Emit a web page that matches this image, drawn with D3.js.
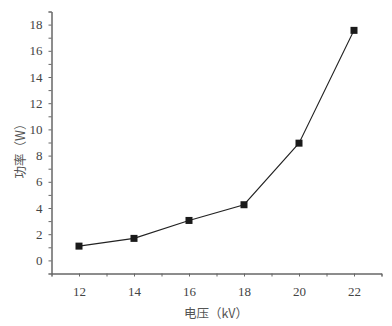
<!DOCTYPE html>
<html><head><meta charset="utf-8">
<script src="https://cdn.jsdelivr.net/npm/d3@7"></script>
<style>body{margin:0;background:#fff}</style>
</head><body>
<svg id="c" width="392" height="326"></svg>
<script>
const voltage = [12, 14, 16, 18, 20, 22];
const power = [1.09, 1.68, 3.05, 4.25, 8.95, 17.56];
const xTicks = [12, 14, 16, 18, 20, 22];
const yTicks = [0, 2, 4, 6, 8, 10, 12, 14, 16, 18];
const xTitle = "电压（kV）";
const yTitle = "功率（W）";

const svg = d3.select("#c");
const x = d3.scaleLinear().domain([11, 23]).range([51.5, 381.5]);
const y = d3.scaleLinear().domain([-1, 19]).range([273.5, 11.5]);
const axisColor = "#666";
const textColor = "#444";
const serif = "'Liberation Serif', 'DejaVu Serif', serif";

// x axis
const gx = svg.append("g").attr("transform", `translate(0,${y(-1)})`);
gx.call(d3.axisBottom(x).tickValues(d3.range(11, 24, 1)).tickSize(3).tickFormat(""));
gx.append("g").call(d3.axisBottom(x).tickValues(xTicks).tickSize(0).tickPadding(13)
  .tickFormat(d3.format("d")));
gx.selectAll("g").attr("font-family", null);
gx.attr("font-family", null);
gx.selectAll("path.domain").attr("stroke", axisColor);
gx.selectAll(".tick line").attr("stroke", axisColor);
gx.selectAll("text").attr("fill", textColor).style("font-family", serif).style("font-size", "13px");
gx.select("g").select("path.domain").remove();

// y axis
const gy = svg.append("g").attr("transform", `translate(${x(11)},0)`);
gy.call(d3.axisLeft(y).tickValues(d3.range(-1, 20, 1)).tickSize(3).tickFormat(""));
gy.append("g").call(d3.axisLeft(y).tickValues(yTicks).tickSize(0).tickPadding(9)
  .tickFormat(d3.format("d")));
gy.attr("font-family", null);
gy.selectAll("g").attr("font-family", null);
gy.selectAll("path.domain").attr("stroke", axisColor);
gy.selectAll(".tick line").attr("stroke", axisColor);
gy.selectAll("text").attr("fill", textColor).style("font-family", serif).style("font-size", "13px");
gy.select("g").select("path.domain").remove();

// titles
svg.append("text").attr("x", 216).attr("y", 318).attr("text-anchor", "middle")
  .style("font-family", "'Noto Sans CJK SC'").style("font-size", "12.5px").attr("fill", "#555")
  .text(xTitle);
svg.append("text").attr("transform", "translate(25,148) rotate(-90)")
  .attr("text-anchor", "middle")
  .style("font-family", "'Noto Sans CJK SC'").style("font-size", "12.5px").attr("fill", "#555")
  .text(yTitle);

// line
const pts = voltage.map((v, i) => [v, power[i]]);
svg.append("path").datum(pts)
  .attr("fill", "none").attr("stroke", "#222").attr("stroke-width", 1.1)
  .attr("d", d3.line().x(d => x(d[0])).y(d => y(d[1])));
svg.selectAll("rect.m").data(pts).enter().append("rect").attr("class", "m")
  .attr("x", d => x(d[0]) - 3.5).attr("y", d => y(d[1]) - 3.5)
  .attr("width", 7).attr("height", 7).attr("fill", "#1a1a1a");
</script>
</body></html>
